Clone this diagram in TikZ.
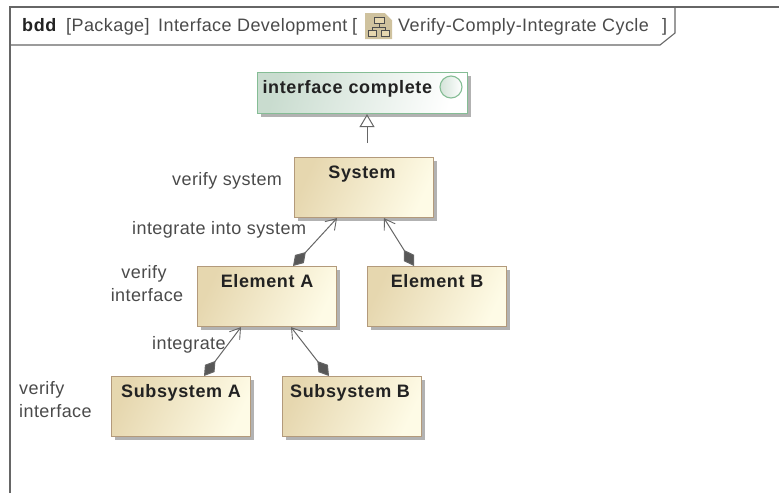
\documentclass[tikz,border=0pt]{standalone}
\usepackage{fontspec}
\setmainfont{Liberation Sans}[LetterSpace=2.4,BoldFeatures={LetterSpace=3.5}]
\usetikzlibrary{arrows.meta,shadows}
\definecolor{framec}{HTML}{666666}
\definecolor{labelc}{HTML}{4A4A4A}
\definecolor{titlec}{HTML}{222222}
\definecolor{blockline}{HTML}{B39A7B}
\definecolor{blockl}{HTML}{E6D7AF}
\definecolor{blockr}{HTML}{FEFBE6}
\definecolor{greenline}{HTML}{85BD95}
\definecolor{greenl}{HTML}{C9DCCF}
\definecolor{edgec}{HTML}{666666}
\tikzset{
  x=1pt,y=-1pt,
  every node/.style={font=\fontsize{18}{23}\selectfont},
  softshadow/.style={drop shadow={shadow xshift=3.5pt,shadow yshift=-3.5pt,fill=black,opacity=.3}},
  blockbox/.style={rectangle,anchor=north west,draw=blockline,line width=1.1pt,softshadow,
    left color=blockl,right color=blockr,shading angle=65,
    minimum width=139pt,inner xsep=0pt,inner ysep=0pt,text height=21pt,text depth=39pt,
    font=\fontsize{18}{20}\selectfont\bfseries,text=titlec},
  reqbox/.style={rectangle,anchor=north west,draw=greenline,line width=1.1pt,softshadow,
    left color=greenl,right color=white,shading angle=75,
    minimum width=210pt,inner xsep=5pt,inner ysep=0pt,text height=21pt,text depth=20pt,
    text width=200pt,align=left,font=\fontsize{18}{20}\selectfont\bfseries,text=titlec},
  reqmark/.style={circle,draw=greenline,line width=1.1pt,left color=greenl!80,right color=white,
    minimum size=22pt,inner sep=0pt},
  note/.style={anchor=base west,inner sep=0pt,text=labelc},
  headtext/.style={anchor=base west,inner sep=0pt,text=labelc},
  framepath/.style={draw=framec,line width=1.1pt},
  assoc/.style={draw=edgec,line width=1pt,
    {Diamond[length=19pt,width=12pt,fill=edgec!85!black]}-{Straight Barb[length=10pt,width=13pt,line width=.9pt]}},
  general/.style={draw=edgec,line width=1pt,-{Triangle[open,fill=white,length=13pt,width=15pt]}},
}
\begin{document}
\begin{tikzpicture}
\useasboundingbox (0,0) rectangle (779,493);
% frame
\path[framepath] (10,493) -- (10,7) -- (779,7);
\path[framepath] (10,45) -- (660,45) -- (675,33) -- (675,7);
% header
\node[headtext,font=\fontsize{18}{20}\selectfont\bfseries,text=titlec] (hkind) at (22,31) {bdd};
\node[headtext] (hpkg) at (66,31) {[Package]};
\node[headtext] (hname) at (158,31) {Interface Development};
\node[headtext] (hopen) at (352,31) {[};
\node[headtext] (hdiag) at (398,31) {Verify-Comply-Integrate Cycle};
\node[headtext] (hclose) at (662,31) {]};
% diagram icon
\fill[blockl!90!black] (365,13) -- (385,13) -- (392,20) -- (392,39) -- (365,39) -- cycle;
\fill[white] (385,13) -- (392,13) -- (392,20) -- cycle;
\draw[black!70,line width=.8pt,fill=blockl] (374,17) rectangle (384,23);
\draw[black!70,line width=.8pt,fill=blockl] (368,30) rectangle (376,36);
\draw[black!70,line width=.8pt,fill=blockl] (381,30) rectangle (389,36);
\draw[black!70,line width=.8pt] (379,23) -- (379,27) (372,30) -- (372,27) -- (385,27) -- (385,30);
% blocks
\node[reqbox] (req) at (257,72) {interface complete};
\node[reqmark] (reqm) at (451,87) {};
\node[blockbox] (sys) at (294,157) {\kern-4pt System};
\node[blockbox] (ela) at (197,266) {Element A};
\node[blockbox] (elb) at (367,266) {Element B};
\node[blockbox] (suba) at (111,376) {Subsystem A};
\node[blockbox] (subb) at (282,376) {\kern-4pt Subsystem B};
% connectors
\coordinate (genstart) at (367,143);
\draw[general] (genstart) -- ([xshift=110pt]req.south west);
\draw[assoc] ([xshift=96pt]ela.north west) -- ([xshift=43pt]sys.south west);
\draw[assoc] ([xshift=47pt]elb.north west) -- ([xshift=90pt]sys.south west);
\draw[assoc] ([xshift=93pt]suba.north west) -- ([xshift=44pt]ela.south west);
\draw[assoc] ([xshift=47pt]subb.north west) -- ([xshift=94pt]ela.south west);
% labels
\node[note] (l1) at (172,185) {verify system};
\node[note] (l2) at (132,234) {integrate into system};
\node[note,anchor=north,align=center] (l3) at (147,265) {verify\kern6pt\\interface};
\node[note] (l4) at (152,349) {integrate};
\node[note,anchor=north west,align=left] (l5) at (19,381) {verify\\interface};
\end{tikzpicture}
\end{document}
